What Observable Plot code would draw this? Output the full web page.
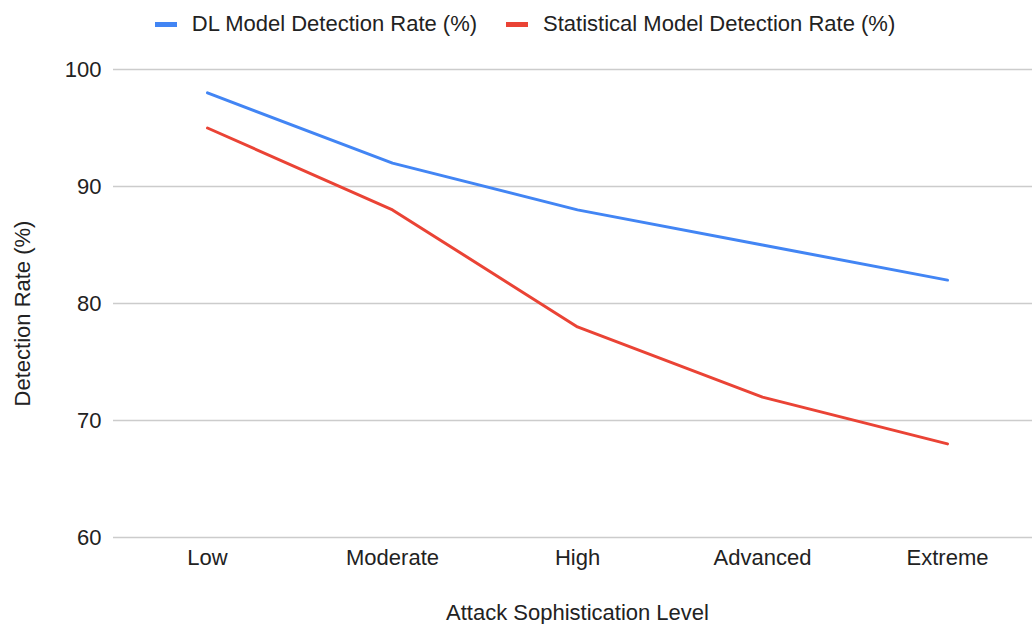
<!DOCTYPE html>
<html>
<head>
<meta charset="utf-8">
<script src="https://cdn.jsdelivr.net/npm/d3@7"></script>
<script src="https://cdn.jsdelivr.net/npm/@observablehq/plot@0.6"></script>
<style>
  html, body { margin: 0; padding: 0; background: #fff; }
  body { width: 1032px; height: 624px; overflow: hidden; font-family: "Liberation Sans", Arial, sans-serif; }
  #legend { height: 48px; display: flex; justify-content: center; align-items: center; padding-left: 18px; box-sizing: border-box; font-size: 22px; color: #222; width: 1032px; }
  #chart { width: 1032px; overflow: hidden; }
  .item { display: flex; align-items: center; margin: 0 13px; }
  .item + .item { margin-left: 16px; }
  .sw { width: 22px; height: 5px; margin-right: 15px; }
</style>
</head>
<body>
<div id="legend"></div>
<div id="chart"></div>
<script>
const levels = ["Low", "Moderate", "High", "Advanced", "Extreme"];
const seriesNames = ["DL Model Detection Rate (%)", "Statistical Model Detection Rate (%)"];
const dlRates = [98, 92, 88, 85, 82];
const statRates = [95, 88, 78, 72, 68];
const colors = ["#4285F4", "#EA4335"];
const yTicks = [60, 70, 80, 90, 100];
const xTitle = "Attack Sophistication Level";
const yTitle = "Detection Rate (%)";

const rows = [];
levels.forEach((l, i) => {
  rows.push({level: l, value: dlRates[i], series: seriesNames[0]});
  rows.push({level: l, value: statRates[i], series: seriesNames[1]});
});

const legend = document.getElementById("legend");
seriesNames.forEach((name, i) => {
  const it = document.createElement("div");
  it.className = "item";
  const sw = document.createElement("div");
  sw.className = "sw";
  sw.style.background = colors[i];
  const tx = document.createElement("span");
  tx.textContent = name;
  it.appendChild(sw); it.appendChild(tx);
  legend.appendChild(it);
});

const chart = Plot.plot({
  width: 1041,
  height: 576,
  marginLeft: 113,
  marginRight: 0,
  marginTop: 21,
  marginBottom: 87,
  style: {fontFamily: '"Liberation Sans", Arial, sans-serif', fontSize: "22px", color: "#222", background: "#fff", maxWidth: "none"},
  x: {type: "point", domain: levels, padding: 0.5},
  y: {domain: [60, 100]},
  color: {domain: seriesNames, range: colors},
  marks: [
    Plot.gridY(yTicks, {stroke: "#cccccc", strokeOpacity: 1, strokeWidth: 1.5}),
    Plot.axisY(yTicks, {tickSize: 0, tickPadding: 12, label: null, fill: "#222"}),
    Plot.axisX({tickSize: 0, tickPadding: 12, label: null, fill: "#222"}),
    Plot.text([yTitle], {frameAnchor: "left", dx: -91, dy: 10, rotate: -90, textAnchor: "middle", lineAnchor: "middle", fill: "#222"}),
    Plot.text([xTitle], {frameAnchor: "bottom", dy: 75, textAnchor: "middle", lineAnchor: "middle", fill: "#222"}),
    Plot.line(rows, {x: "level", y: "value", z: "series", stroke: "series", strokeWidth: 3})
  ]
});
chart.style.maxWidth = "none";
document.getElementById("chart").appendChild(chart);
</script>
</body>
</html>
